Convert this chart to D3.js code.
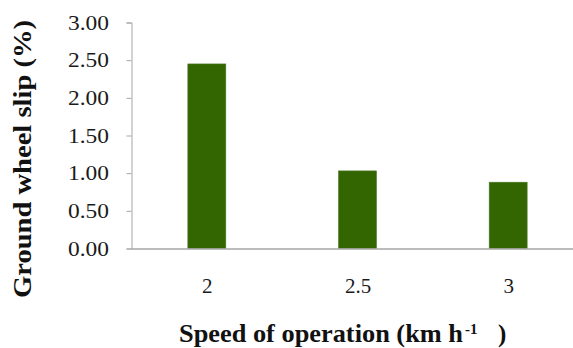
<!DOCTYPE html>
<html><head><meta charset="utf-8">
<script src="https://cdn.jsdelivr.net/npm/d3@7"></script>
<style>html,body{margin:0;padding:0;background:#fff;}svg{display:block;}
text.serif{font-family:"Liberation Serif";}</style>
</head><body>
<script>
const categories = ["2", "2.5", "3"];
const slipValues = [2.45, 1.03, 0.88];
const yTicks = [0, 0.5, 1, 1.5, 2, 2.5, 3];

const W = 573, H = 348;
const svg = d3.select("body").append("svg").attr("width", W).attr("height", H);
const x = d3.scalePoint().domain(categories).range([131.5, 583.5]).padding(0.5);
const barW = x.step() * 0.252;
const y = d3.scaleLinear().domain([0, 3]).range([248.5, 22.5]);
const font = "Liberation Serif";

// bars
svg.append("g").selectAll("rect").data(categories).join("rect")
  .attr("x", d => x(d) - barW / 2)
  .attr("y", (d, i) => y(slipValues[i]))
  .attr("width", barW)
  .attr("height", (d, i) => y(0) - y(slipValues[i]))
  .attr("fill", "#336600")
  .attr("stroke", "#4d7a26").attr("stroke-width", 0.6);

// y axis
const yAxis = svg.append("g").attr("transform", "translate(131.5,0)")
  .call(d3.axisLeft(y).tickValues(yTicks).tickFormat(d3.format(".2f")).tickSizeOuter(0).tickSize(5).tickPadding(17.5));
yAxis.attr("font-family", null);
yAxis.select(".domain").attr("stroke", "#a6a6a6");
yAxis.selectAll(".tick line").attr("stroke", "#a6a6a6");
yAxis.selectAll(".tick text").attr("class", "serif")
  .style("font-family", font).style("font-size", "21px").attr("fill", "#1a1a1a")
  .attr("textLength", 41).attr("lengthAdjust", "spacingAndGlyphs");

// x axis
const xAxis = svg.append("g").attr("transform", "translate(0,249)")
  .call(d3.axisBottom(x).tickSize(0).tickPadding(0));
xAxis.attr("font-family", null);
xAxis.select(".domain").remove();
svg.append("line").attr("x1", 131.5).attr("x2", W).attr("y1", 249).attr("y2", 249)
  .attr("stroke", "#a6a6a6").attr("stroke-width", 1.5);
xAxis.selectAll(".tick text").attr("class", "serif")
  .style("font-family", font).style("font-size", "21px").attr("fill", "#1a1a1a")
  .attr("dy", null).attr("y", 44);

// y title
svg.append("text").attr("class", "serif").attr("transform", "translate(31,159) rotate(-90)")
  .attr("text-anchor", "middle")
  .style("font-family", font).style("font-weight", "bold").style("font-size", "26px")
  .attr("fill", "#111")
  .attr("textLength", 278).attr("lengthAdjust", "spacingAndGlyphs")
  .text("Ground wheel slip (%)");

// x title
svg.append("text").attr("class", "serif").attr("x", 179).attr("y", 342)
  .style("font-family", font).style("font-weight", "bold").style("font-size", "25px")
  .attr("fill", "#111")
  .attr("textLength", 284).attr("lengthAdjust", "spacingAndGlyphs")
  .text("Speed of operation (km h");
svg.append("text").attr("class", "serif").attr("x", 465).attr("y", 334)
  .style("font-family", font).style("font-weight", "bold").style("font-size", "15px")
  .attr("fill", "#111")
  .text("-1");
svg.append("text").attr("class", "serif").attr("x", 498).attr("y", 342)
  .style("font-family", font).style("font-weight", "bold").style("font-size", "25px")
  .attr("fill", "#111")
  .text(")");
</script>
</body></html>
